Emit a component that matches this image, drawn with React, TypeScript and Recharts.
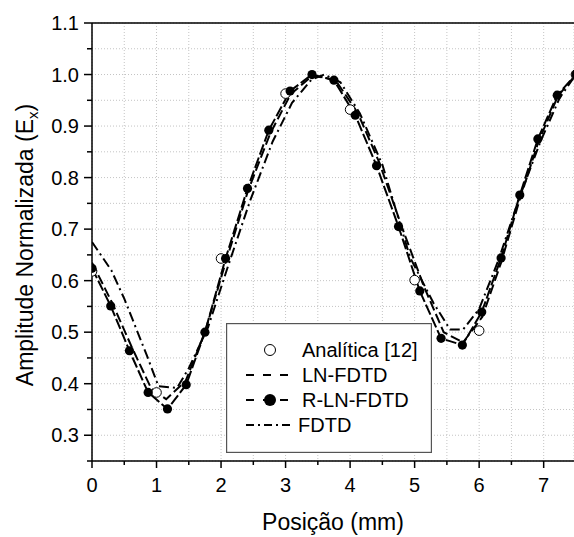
import React from "react";
import {
  ComposedChart,
  Line,
  Scatter,
  XAxis,
  YAxis,
  CartesianGrid,
  ReferenceLine,
  Legend,
} from "recharts";

const FONT = "'Liberation Sans', Arial, Helvetica, sans-serif";

// Analítica [12]
const analyticX = [0, 1, 2, 3, 4, 5, 6, 7.5];
const analyticY = [0.618, 0.383, 0.643, 0.963, 0.932, 0.601, 0.503, 1.0];

// LN-FDTD
const lnX = [0, 0.32, 0.62, 0.92, 1.15, 1.45, 1.75, 2.07, 2.42, 2.76, 3.08, 3.42, 3.77, 4.12, 4.45, 4.8, 5.14, 5.45, 5.75, 6.05, 6.34, 6.63, 6.92, 7.22, 7.5];
const lnY = [0.635, 0.555, 0.47, 0.39, 0.37, 0.405, 0.5, 0.635, 0.775, 0.885, 0.962, 0.998, 0.99, 0.925, 0.83, 0.705, 0.59, 0.5, 0.48, 0.53, 0.635, 0.758, 0.87, 0.958, 1.0];

// R-LN-FDTD
const rlnX = [0, 0.29, 0.58, 0.87, 1.17, 1.46, 1.75, 2.07, 2.41, 2.74, 3.07, 3.41, 3.75, 4.08, 4.41, 4.75, 5.08, 5.41, 5.74, 6.04, 6.34, 6.63, 6.91, 7.21, 7.5];
const rlnY = [0.624, 0.551, 0.464, 0.383, 0.351, 0.398, 0.5, 0.643, 0.779, 0.892, 0.968, 1.0, 0.989, 0.921, 0.823, 0.705, 0.58, 0.488, 0.475, 0.539, 0.644, 0.766, 0.875, 0.96, 1.0];

// FDTD
const fdtdX = [0, 0.3, 0.5, 0.85, 1.03, 1.32, 1.5, 1.8, 2.1, 2.45, 2.8, 3.1, 3.4, 3.6, 3.85, 4.15, 4.5, 4.93, 5.29, 5.55, 5.75, 6.0, 6.3, 6.62, 6.95, 7.25, 7.5];
const fdtdY = [0.675, 0.62, 0.565, 0.455, 0.395, 0.392, 0.43, 0.51, 0.625, 0.755, 0.87, 0.945, 0.99, 1.0, 0.985, 0.925, 0.825, 0.645, 0.557, 0.505, 0.505, 0.545, 0.64, 0.76, 0.87, 0.955, 1.0];

const xTicks = [0, 0.5, 1, 1.5, 2, 2.5, 3, 3.5, 4, 4.5, 5, 5.5, 6, 6.5, 7];
const yTicks = [0.25, 0.3, 0.35, 0.4, 0.45, 0.5, 0.55, 0.6, 0.65, 0.7, 0.75, 0.8, 0.85, 0.9, 0.95, 1.0, 1.05, 1.1];

const toPts = (xs: number[], ys: number[]) => xs.map((x, i) => ({ x, y: ys[i] }));
const analytic = toPts(analyticX, analyticY);
const ln = toPts(lnX, lnY);
const rln = toPts(rlnX, rlnY);
const fdtd = toPts(fdtdX, fdtdY);

const YTick = (props: any) => {
  const { x, y, payload } = props;
  const v = payload.value as number;
  const major = Math.abs(Math.round(v * 10) - v * 10) < 1e-6;
  return (
    <g>
      <line x1={x - (major ? 8 : 5)} x2={x} y1={y} y2={y} stroke="#000" strokeWidth={1.5} />
      {major && (
        <text x={x - 13} y={y + 7} textAnchor="end" fontSize={20} fontFamily={FONT} fill="#000">
          {v.toFixed(1)}
        </text>
      )}
    </g>
  );
};

const XTick = (props: any) => {
  const { x, y, payload } = props;
  const v = payload.value as number;
  const major = Math.abs(Math.round(v) - v) < 1e-6;
  return (
    <g>
      <line x1={x} x2={x} y1={y} y2={y + (major ? 7 : 4)} stroke="#000" strokeWidth={1.5} />
      {major && (
        <text x={x} y={y + 31} textAnchor="middle" fontSize={20} fontFamily={FONT} fill="#000">
          {String(v)}
        </text>
      )}
    </g>
  );
};

const LegendBox = () => {
  const rows = [27, 52, 77, 102];
  const tx = 76;
  const txt = { fontSize: 20, fontFamily: FONT, fill: "#000" } as any;
  return (
    <svg width={206} height={130} style={{ display: "block" }}>
      <rect x={0.6} y={0.6} width={204.8} height={128.8} fill="#fff" stroke="#555" strokeWidth={1.2} />
      <circle cx={44} cy={rows[0]} r={5.5} fill="#fff" stroke="#000" strokeWidth={1} />
      <text x={tx} y={rows[0] + 7} {...txt}>Analítica [12]</text>
      <line x1={20} x2={64} y1={rows[1]} y2={rows[1]} stroke="#000" strokeWidth={2} strokeDasharray="8 9" />
      <text x={tx} y={rows[1] + 7} {...txt}>LN-FDTD</text>
      <line x1={20} x2={64} y1={rows[2]} y2={rows[2]} stroke="#000" strokeWidth={2} strokeDasharray="8 9" />
      <circle cx={44} cy={rows[2]} r={6} fill="#000" />
      <text x={tx} y={rows[2] + 7} {...txt}>R-LN-FDTD</text>
      <line x1={20} x2={64} y1={rows[3]} y2={rows[3]} stroke="#000" strokeWidth={2} strokeDasharray="8 4 2 4" />
      <text x={tx - 4} y={rows[3] + 7} {...txt}>FDTD</text>
    </svg>
  );
};

const OpenCircle = (props: any) => {
  const { cx, cy } = props;
  if (cx == null || cy == null) return null;
  return <circle cx={cx} cy={cy} r={4.8} fill="#fff" stroke="#000" strokeWidth={1} />;
};

export default function App() {
  return (
    <div style={{ position: "absolute", left: 0, top: 0, width: 574, height: 537, background: "#fff" }}>
      <ComposedChart
        width={574}
        height={537}
        margin={{ top: 23, right: 0, bottom: 6, left: 12 }}
      >
        <CartesianGrid stroke="#c4c4c4" strokeDasharray="1 2" strokeWidth={1} />
        <XAxis
          type="number"
          dataKey="x"
          domain={[0, 7.47]}
          allowDataOverflow
          ticks={xTicks}
          interval={0}
          tickSize={0}
          tickMargin={0}
          tickLine={false}
          tick={<XTick />}
          height={70}
          axisLine={{ stroke: "#000", strokeWidth: 1.5 }}
        />
        <YAxis
          type="number"
          dataKey="y"
          domain={[0.25, 1.1]}
          allowDataOverflow
          ticks={yTicks}
          interval={0}
          tickSize={0}
          tickMargin={0}
          tickLine={false}
          tick={<YTick />}
          width={80}
          axisLine={{ stroke: "#000", strokeWidth: 1.5 }}
        />
        <ReferenceLine y={1.1} stroke="#000" strokeWidth={1.5} />
        <Scatter data={analytic} dataKey="y" shape={<OpenCircle />} isAnimationActive={false} />
        <Line
          data={ln}
          dataKey="y"
          type="linear"
          stroke="#000"
          strokeWidth={2}
          strokeDasharray="10 4"
          dot={false}
          isAnimationActive={false}
        />
        <Line
          data={rln}
          dataKey="y"
          type="linear"
          stroke="#000"
          strokeWidth={2}
          strokeDasharray="11 3"
          dot={{ r: 4.6, fill: "#000", stroke: "none", strokeDasharray: "" }}
          activeDot={false}
          isAnimationActive={false}
        />
        <Line
          data={fdtd}
          dataKey="y"
          type="linear"
          stroke="#000"
          strokeWidth={2}
          strokeDasharray="10 4 2 4"
          dot={false}
          isAnimationActive={false}
        />
        <Legend
          verticalAlign="middle"
          align="center"
          layout="horizontal"
          wrapperStyle={{ left: 226, top: 323, width: 206, height: 130 }}
          content={() => <LegendBox />}
        />
        <text x={333} y={530} textAnchor="middle" fontSize={23} fontFamily={FONT} fill="#000">
          Posição (mm)
        </text>
        <text
          x={33}
          y={245}
          transform="rotate(-90, 33, 245)"
          textAnchor="middle"
          fontSize={23}
          fontFamily={FONT}
          fill="#000"
        >
          Amplitude Normalizada (E
          <tspan fontSize={15} dy={5}>x</tspan>
          <tspan dy={-5}>)</tspan>
        </text>
      </ComposedChart>
    </div>
  );
}
